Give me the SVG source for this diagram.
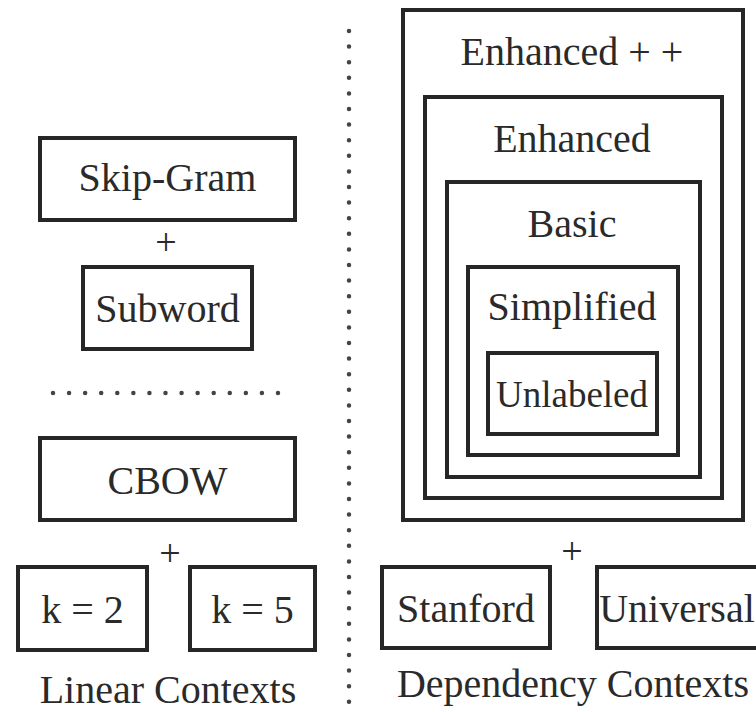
<svg xmlns="http://www.w3.org/2000/svg" width="756" height="712" viewBox="0 0 756 712">
<style>
.box{fill:none;stroke:#262626;stroke-width:4}
.t{font-family:"Liberation Serif","Times New Roman",serif;font-size:40px;fill:#2a2a2a;text-anchor:middle}
.s{font-size:37px}
.p{font-family:"Liberation Serif","Times New Roman",serif;font-size:38px;fill:#2a2a2a;text-anchor:middle}
.dot{fill:none;stroke:#444;stroke-width:4.5;stroke-linecap:round}
</style>
<rect width="756" height="712" fill="#fff"/>
<g id="separators">
<line class="dot" x1="349" y1="31" x2="349" y2="702" stroke-dasharray="0 15.6"/>
<line class="dot" x1="53" y1="393" x2="294" y2="393" stroke-dasharray="0 16.07"/>
</g>
<g id="skipgram"><rect class="box" x="40" y="138" width="255" height="82"/><text class="t" x="167.5" y="191">Skip-Gram</text></g>
<text class="p" x="166" y="255">+</text>
<g id="subword"><rect class="box" x="83" y="267" width="169" height="82"/><text class="t" x="167.5" y="322">Subword</text></g>
<g id="cbow"><rect class="box" x="40" y="438" width="255" height="82"/><text class="t" x="167.5" y="494">CBOW</text></g>
<text class="p" x="170" y="566">+</text>
<g id="k2"><rect class="box" x="18" y="567" width="129" height="83"/><text class="t" x="82.5" y="623">k = 2</text></g>
<g id="k5"><rect class="box" x="190" y="567" width="125" height="83"/><text class="t" x="252.5" y="623">k = 5</text></g>
<text class="t" x="168" y="703">Linear Contexts</text>
<g id="enhancedpp"><rect class="box" x="403" y="10" width="340" height="510"/><text class="t" x="572" y="65">Enhanced + +</text></g>
<g id="enhanced"><rect class="box" x="425" y="97" width="297" height="401"/><text class="t" x="572" y="152">Enhanced</text></g>
<g id="basic"><rect class="box" x="447" y="182" width="253" height="295"/><text class="t" x="572" y="237">Basic</text></g>
<g id="simplified"><rect class="box" x="468" y="267" width="210" height="188"/><text class="t" x="572" y="320">Simplified</text></g>
<g id="unlabeled"><rect class="box" x="488" y="353" width="169" height="81"/><text class="t s" x="572" y="407">Unlabeled</text></g>
<text class="p" x="572" y="564">+</text>
<g id="stanford"><rect class="box" x="382" y="567" width="168" height="81"/><text class="t" x="466" y="622">Stanford</text></g>
<g id="universal"><rect class="box" x="597" y="567" width="180" height="81"/><text class="t" x="677" y="622">Universal</text></g>
<text class="t" x="573" y="697">Dependency Contexts</text>
</svg>
